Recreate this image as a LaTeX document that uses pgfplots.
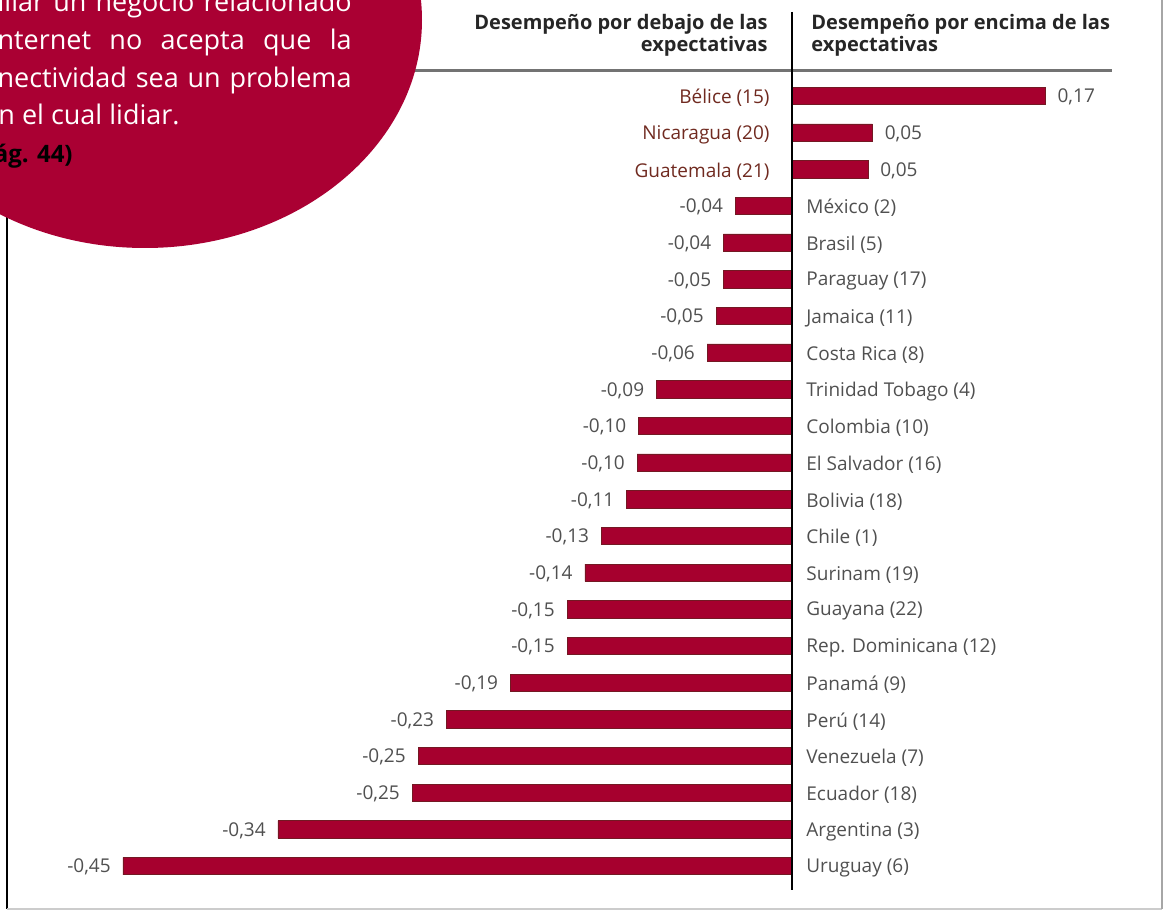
\documentclass[border=0pt]{standalone}
\usepackage{pgfplots}
\pgfplotsset{compat=1.18}
\usepackage{pgfplotstable}
\usepackage{fontspec}
\setmainfont{Open Sans}

\definecolor{vino}{RGB}{170,0,51}
\definecolor{barra}{RGB}{166,0,46}
\definecolor{borde}{RGB}{115,25,35}
\definecolor{cafe}{RGB}{112,42,32}
\definecolor{gristx}{RGB}{80,80,80}

% filas por encima de las expectativas
\pgfplotstableread[col sep=semicolon]{
y;x;z;val;name
0;0.170;0;0,17;Bélice (15)
1;0.054;0;0,05;Nicaragua (20)
2;0.051;0;0,05;Guatemala (21)
}\arriba

% filas por debajo de las expectativas
\pgfplotstableread[col sep=semicolon]{
y;x;z;val;name
3;-0.038;0;-0,04;México (2)
4;-0.046;0;-0,04;Brasil (5)
5;-0.046;0;-0,05;Paraguay (17)
6;-0.051;0;-0,05;Jamaica (11)
7;-0.057;0;-0,06;Costa Rica (8)
8;-0.091;0;-0,09;Trinidad Tobago (4)
9;-0.103;0;-0,10;Colombia (10)
10;-0.104;0;-0,10;El Salvador (16)
11;-0.111;0;-0,11;Bolivia (18)
12;-0.128;0;-0,13;Chile (1)
13;-0.139;0;-0,14;Surinam (19)
14;-0.151;0;-0,15;Guayana (22)
15;-0.151;0;-0,15;Rep. Dominicana (12)
16;-0.189;0;-0,19;Panamá (9)
17;-0.232;0;-0,23;Perú (14)
18;-0.251;0;-0,25;Venezuela (7)
19;-0.255;0;-0,25;Ecuador (18)
20;-0.345;0;-0,34;Argentina (3)
21;-0.449;0;-0,45;Uruguay (6)
}\abajo

\newcommand{\lbl}{\fontsize{9.5}{11}\selectfont}

\begin{document}
\begin{tikzpicture}
\path[use as bounding box] (0,0) rectangle (582pt,456pt);
\clip (0,0) rectangle (582pt,456pt);

\begin{axis}[
    at={(0pt,0pt)}, anchor=south west,
    scale only axis, width=582pt, height=456pt,
    hide axis, clip=false,
    xmin=-0.53154, xmax=0.24966,
    y dir=reverse, ymin=-2.618, ymax=22.253,
]
% barras
\addplot[xbar, bar width=8.7pt, bar shift=0pt, fill=barra, draw=borde, line width=0.3pt,
    nodes near coords, point meta=explicit symbolic,
    every node near coord/.append style={anchor=west, inner sep=0pt, xshift=6pt, yshift=-0.5pt, font=\lbl, text=gristx}]
    table[x=x, y=y, meta=val] {\arriba};
\addplot[xbar, bar width=8.7pt, bar shift=0pt, fill=barra, draw=borde, line width=0.3pt,
    nodes near coords, point meta=explicit symbolic,
    every node near coord/.append style={anchor=east, inner sep=0pt, xshift=-6pt, yshift=-0.5pt, font=\lbl, text=gristx}]
    table[x=x, y=y, meta=val] {\abajo};
% nombres de paises
\addplot[draw=none, mark=none, nodes near coords, point meta=explicit symbolic,
    every node near coord/.append style={anchor=east, inner sep=0pt, xshift=-11pt, yshift=-1pt, font=\lbl, text=cafe}]
    table[x=z, y=y, meta=name] {\arriba};
\addplot[draw=none, mark=none, nodes near coords, point meta=explicit symbolic,
    every node near coord/.append style={anchor=west, inner sep=0pt, xshift=7pt, yshift=-1pt, font=\lbl, text=gristx}]
    table[x=z, y=y, meta=name] {\abajo};
\end{axis}

\begin{scope}[x=0.5pt, y=-0.5pt, yshift=456pt]
% marco
\draw[black, line width=1.2pt] (7,-5) -- (7,909);
\draw[black!20, line width=1pt] (7,909) -- (1162,909);
\draw[black!35, line width=0.7pt] (1162,-5) -- (1162,909);
% linea del encabezado
\draw[black!55, line width=1.5pt] (400,71) -- (1112,71);
% eje central
\draw[black, line width=1pt] (792,12) -- (792,890);
% encabezados
\node[anchor=base east, align=right, inner sep=0pt, text=black!85,
      font=\fontsize{10}{11}\selectfont\bfseries] at (768,52)
      {Desempeño por debajo de las\\expectativas};
\node[anchor=base west, align=left, inner sep=0pt, text=black!85,
      font=\fontsize{10}{11}\selectfont\bfseries] at (811,52)
      {Desempeño por encima de las\\expectativas};
% circulo
\fill[vino] (145,20) ellipse [x radius=138.5pt, y radius=114pt];
\begin{scope}[every node/.style={anchor=base east, inner sep=0pt, text=white,
      font=\fontsize{13.5}{16}\selectfont}]
\node at (352,12) {\makebox[177pt][s]{iliar un negocio relacionado}};
\node at (352,50) {\makebox[177pt][s]{nternet no acepta que la}};
\node at (352,88) {\makebox[177pt][s]{nectividad sea un problema}};
\node at (180,125) {n el cual lidiar.};
\end{scope}
\node[anchor=base east, inner sep=0pt, text=black,
      font=\fontsize{12}{14}\selectfont\bfseries] at (73,163) {ág. 44)};
\end{scope}
\end{tikzpicture}
\end{document}
